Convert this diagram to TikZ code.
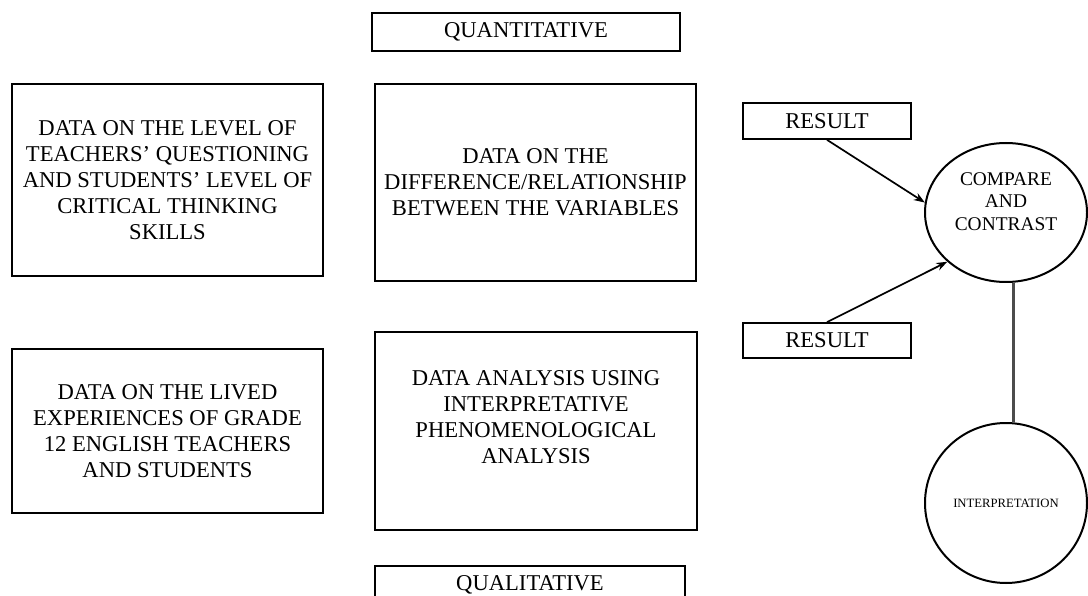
\documentclass[tikz,border=0pt]{standalone}
\usepackage{fontspec}
\setmainfont{Liberation Serif}
\usetikzlibrary{arrows.meta,shapes.geometric}
\begin{document}
\begin{tikzpicture}[x=1pt,y=-1pt]
\tikzset{
  boxbase/.style={draw=black, line width=1.7pt, align=center, inner sep=0pt,
    font=\fontsize{22.6}{26}\selectfont},
  boxtext/.style={align=center, inner sep=0pt, font=\fontsize{22.6}{26}\selectfont},
  circtext/.style={align=center, inner sep=0pt, font=\fontsize{19.4}{22.5}\selectfont},
  ell/.style={draw=black, ellipse, line width=2pt, inner sep=0pt},
  arr/.style={-{Stealth[length=11pt,width=8pt]}, line width=1.7pt},
  link/.style={draw=black!70, line width=3pt}
}
\useasboundingbox (0,0) rectangle (1088,596);
\fill[white] (0,0) rectangle (1088,596);

\node[boxbase, minimum width=308pt, minimum height=38pt] (quant) at (526,32) {QUANTITATIVE};
\node[boxbase, minimum width=311pt, minimum height=192pt] (dataA) at (167.5,180)
  {DATA ON THE LEVEL OF\\TEACHERS’ QUESTIONING\\AND STUDENTS’ LEVEL OF\\CRITICAL THINKING\\SKILLS};
\node[boxbase, minimum width=321pt, minimum height=197pt] (dataB) at (535.5,182.5)
  {DATA ON THE\\DIFFERENCE/RELATIONSHIP\\BETWEEN THE VARIABLES};
\node[boxbase, minimum width=311pt, minimum height=164pt] (dataC) at (167.5,431)
  {DATA ON THE LIVED\\EXPERIENCES OF GRADE\\12 ENGLISH TEACHERS\\AND STUDENTS};
\node[boxbase, minimum width=322pt, minimum height=198pt,
  label={[boxtext, yshift=14pt]center:DATA ANALYSIS USING\\INTERPRETATIVE\\PHENOMENOLOGICAL\\ANALYSIS}]
  (dataD) at (536,431) {};
\node[boxbase, minimum width=310pt, minimum height=38pt] (qual) at (530,585) {QUALITATIVE};

\node[boxbase, minimum width=168pt, minimum height=36pt] (res1) at (827,121) {RESULT};
\node[boxbase, minimum width=168pt, minimum height=35pt] (res2) at (827,340.5) {RESULT};

\node[ell, minimum width=162pt, minimum height=139pt,
  label={[circtext, yshift=11pt]center:COMPARE\\AND\\CONTRAST}] (compare) at (1006,212.5) {};
\node[ell, minimum width=162pt, minimum height=160pt,
  font=\fontsize{12.7}{15}\selectfont] (interp) at (1006,503) {INTERPRETATION};

\draw[arr] (res1.south) -- (compare.173);
\draw[arr] (res2.north) -- (compare.220);
\draw[link] ([xshift=7pt]compare.south) -- ([xshift=7pt]interp.north);
\end{tikzpicture}
\end{document}
